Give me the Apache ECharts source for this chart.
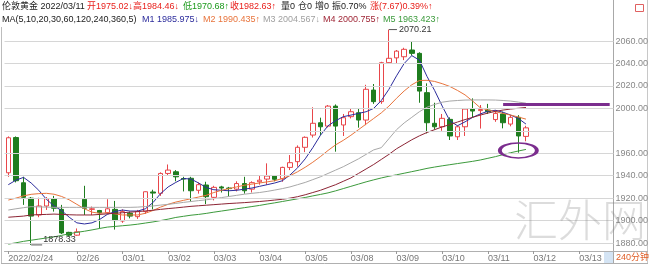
<!DOCTYPE html>
<html><head><meta charset="utf-8">
<script src="https://cdn.jsdelivr.net/npm/echarts@6/dist/echarts.min.js"></script>
<style>html,body{margin:0;padding:0;background:#fff}#c{width:650px;height:267px}</style>
</head><body><div id="c"></div>
<script>
// ---- data (240-minute candles, London gold) ----
const openPrices = [1942.6,1974,1933.7,1920,1905,1913,1919.5,1910,1889.5,1887,
  1919,1910,1909,1907,1910,1899.6,1906.5,1903.5,1908,1925.5,
  1924.3,1942,1943.5,1937.5,1937.7,1927,1931.7,1920.7,1930,1929,
  1928,1933,1928,1934.6,1937,1939.7,1937.3,1947.4,1952.5,1965.3,
  1976.2,1987.2,1984.2,2002,1985.2,1992.6,1996.1,1989.6,2016.3,2006,
  2040.7,2045,2046,2052,2049,2014,1986.7,1983.6,1990.2,1974.7,
  1983.6,1999.4,1998,1998.5,1990,1995,1986,1992,1975.02];
const closePrices = [1973.8,1935.5,1920.7,1904,1913,1919.5,1911,1889,1887,1890,
  1911,1910.5,1907,1910.5,1900,1908,1904,1908,1925.7,1924.5,
  1942,1945,1939,1937,1926.6,1932,1921.3,1929.6,1929,1928.5,
  1933,1926.6,1933.8,1936,1939.7,1936.8,1947.4,1951.6,1965.3,1974.2,
  1986.7,1983.6,2002,1984.2,1991.7,1997,1989.6,2017,2006,2040.7,
  2044.6,2051,2052.6,2049,2015.4,1987.2,1983.6,1991.1,1975.4,1983.6,
  1999.4,1997.6,1999,1997,1995.5,1987.2,1992,1975.4,1982.63];
const lowPrices = [1939,1934,1914,1878.33,1903,1909.5,1908,1888,1886,1886.5,
  1905,1905,1893,1906,1892,1898,1902,1901.5,1906,1910,
  1922,1940,1935,1926,1917,1924,1914.7,1918,1925,1921,
  1926,1924,1925,1932,1932,1935,1934.6,1945,1948,1961,
  1974,1976,1983,1961.4,1975.4,1991,1982.8,1985,2004,2004,
  2040,2040,2043,2047,2005,1977.7,1981,1980,1971.8,1971.8,
  1975.4,1992,1982,1995,1988,1982.2,1984,1960.5,1970.68];
const highPrices = [1975,1975,1939,1921,1920.4,1921,1922,1914,1890,1893,
  1931,1912.5,1909.5,1919,1917.5,1910,1908,1909.5,1926,1927.5,
  1943,1950,1945,1939,1939,1934,1934.6,1931,1931,1930,
  1935,1939,1935,1940.6,1951,1940.5,1948,1958.4,1967,1975,
  2001,1991.7,2003,2003.5,1995,1999.5,2000,2021,2021.7,2041.5,
  2070.21,2052,2054,2059.4,2050,2022.3,2005,1995,1992,1985,
  2000,2008.9,2003,2004,1998.5,1997,1994,1994,1984.46];

const ma5 = [1932,1936,1938.5,1933.5,1927,1919,1913,1909,1903,1898,
  1897,1898,1901,1905.5,1908,1909.4,1908.5,1908.5,1910.5,1916,
  1924,1930,1934,1937.5,1937,1933.5,1929.5,1927.5,1927,1926.6,
  1927,1928,1929,1930.5,1932,1933.5,1935.5,1940.6,1947,1955,
  1965,1976,1984.5,1989,1992.6,1994,1995.5,1997,2000,2007,
  2017,2029,2040,2047,2043,2028.5,2016,2002,1989,1984.5,
  1988,1992,1995,1997.5,1998.3,1996.5,1994,1991,1986];
const ma10 = [1918.3,1920,1922,1923.4,1924,1924.3,1923.5,1921.5,1918.5,1914.5,
  1910.5,1907.5,1906.5,1907,1906,1905,1905,1905,1906.5,1909,
  1912,1914.5,1916.5,1918,1919.5,1921,1922.5,1925,1927,1928.5,
  1930,1931.5,1932.5,1933.5,1934.5,1935.5,1937.5,1940,1943.5,1947.5,
  1952,1957,1962.5,1967.5,1971.5,1976,1981,1986,1991,1996,
  2002,2009,2015.5,2021,2024.8,2025,2024,2022,2019.5,2016,
  2012,2006.5,2000.5,1998.5,1997,1995.5,1994,1992.3,1990.4];
const ma20 = [1909.4,1910.5,1911.5,1912.4,1912.2,1912,1911.8,1911.8,1911.8,1911.8,
  1911.8,1911.8,1911.8,1911.8,1911.8,1911.8,1911.8,1912,1912.5,1913,
  1913.8,1914.5,1915.3,1916.2,1917,1917.8,1918.5,1919.5,1920.5,1921.5,
  1922.5,1923.5,1924.3,1925,1926,1927.2,1928.5,1930,1932,1934,
  1936.5,1939,1942,1945,1948,1951.5,1955,1959,1963,1965,
  1973,1981,1987,1992,1997,2001,2003.5,2005.5,2006.5,2007,
  2007.4,2007.5,2007.5,2007.5,2007.4,2007,2006.5,2005.6,2004.6];
const ma30 = [1903,1903.5,1904,1905,1905.3,1905.5,1905.8,1905.5,1905.2,1905,
  1905,1905,1905.5,1906,1906.5,1907,1907.5,1908,1908.6,1909.2,
  1910,1910.7,1911.3,1912,1912.7,1913.2,1913.7,1914.2,1914.7,1915.2,
  1915.6,1916,1916.5,1917,1917.6,1918.3,1919,1920,1921.3,1923,
  1925,1927,1929.5,1932,1935,1938,1942,1946,1950,1954.5,
  1959,1964,1968,1972,1975.5,1978.5,1981,1983.5,1985.5,1987.8,
  1990,1992,1994,1995.8,1997.3,1998.5,1999.4,2000.1,2000.8];
const ma60 = [1879,1880.2,1881.5,1882.5,1883.5,1884.5,1885.5,1886.8,1888.3,1889.5,
  1890.5,1891.7,1893,1894.2,1894.8,1895.4,1896,1896.8,1897.8,1898.8,
  1900,1901.3,1902.8,1903.8,1904.8,1905.5,1906.4,1907.5,1908.5,1909.5,
  1910.5,1911.5,1912.5,1913.5,1914.7,1915.8,1917,1918.2,1919.4,1920.6,
  1922,1923.3,1924.7,1926.5,1928.5,1930.5,1932.5,1934.5,1936.3,1938,
  1939.5,1940.8,1942.2,1943.6,1945,1946.5,1947.7,1948.8,1949.8,1950.8,
  1951.8,1952.8,1954,1955.5,1957,1958.8,1960.5,1962,1963.4];

const slotCount = 80;                       // candle slots incl. empty future slots
const tickIndex = [0,9,15,21,27,33,39,45,51,57,63,69,75];
const tickText = ['2022/02/24','02/26','03/01','03/02','03/03','03/04','03/05','03/08','03/09','03/10','03/11','03/12','03/13'];
const yTickValues = [1880,1900,1920,1940,1960,1980,2000,2020,2040,2060];
const hiddenYLabel = 1980;
const lastClose = 1982.63;
const resistanceLevel = 2004;
const resistanceFrom = 65, resistanceTo = 79;
const circleAt = [67, 1962.5];
const highMark = [50, 2070.21];
const lowMark = [3, 1878.33];

const header1 = [
  ['伦敦黄金 2022/03/11', 2, '#222'],
  ['开1975.02↓', 87, '#e8201c'],
  ['高1984.46↓', 133, '#e8201c'],
  ['低1970.68↑', 183, '#1c9a1c'],
  ['收1982.63↑', 230, '#e8201c'],
  ['量0', 281, '#222'],
  ['仓0', 298, '#222'],
  ['增0', 315, '#222'],
  ['振0.70%', 332, '#222'],
  ['涨(7.67)0.39%↑', 370, '#e8201c']
];
const header2 = [
  ['MA(5,10,20,30,60,120,240,360,5)', 2, '#222'],
  ['M1 1985.975↓', 142, '#2c2c9c'],
  ['M2 1990.435↑', 203, '#e8743c'],
  ['M3 2004.567↓', 263, '#a0a0a0'],
  ['M4 2000.755↑', 323, '#a02838'],
  ['M5 1963.423↑', 383, '#3c9a3c']
];
const maColors = ['#2c2c9c','#e8743c','#a8a8a8','#8c2434','#3c9a3c'];

// ---- chart ----
const FONT = '"Liberation Sans", "Noto Sans CJK SC", sans-serif';
const cats = Array.from({length: slotCount}, (_, i) => 'k' + i);
const candleData = openPrices.map((o, i) => [o, closePrices[i], lowPrices[i], highPrices[i]]);
const showTick = (idx) => tickIndex.indexOf(idx) >= 0;

const graphics = [];
header1.forEach(([t, x, c]) => graphics.push({type:'text', x: x, y: 7, style:{text:t, fill:c, font:'9px ' + FONT, verticalAlign:'middle'}}));
header2.forEach(([t, x, c]) => graphics.push({type:'text', x: x, y: 20, style:{text:t, fill:c, font:'9px ' + FONT, verticalAlign:'middle'}}));
const ln = (x1,y1,x2,y2,c) => ({type:'line', shape:{x1,y1,x2,y2}, style:{stroke:c, lineWidth:1}, silent:true});
graphics.push(ln(613.5,0,613.5,264,'#a8a8a8'));
graphics.push(ln(647.5,0,647.5,264,'#c8c8c8'));
graphics.push(ln(1.5,27,1.5,264,'#bdbdbd'));
graphics.push(ln(1,263.5,648,263.5,'#b0b0b0'));
graphics.push(ln(613,251.5,648,251.5,'#b0b0b0'));
graphics.push({type:'rect', shape:{x:604,y:252,width:9,height:11}, style:{fill:'#d4e4f4'}, silent:true});
graphics.push({type:'text', x:616, y:257.5, style:{text:'240分钟', fill:'#e0602a', font:'9px ' + FONT, verticalAlign:'middle'}});
graphics.push({type:'rect', shape:{x:635.5,y:4.5,width:8,height:7}, style:{fill:'none', stroke:'#e06060', lineWidth:1}, silent:true});
graphics.push({type:'text', x:514, y:198, z:100, style:{text:'汇外网', fill:'rgba(130,130,130,0.28)', font:'300 44px "Noto Sans CJK SC", sans-serif'}});

const gridLineItems = yTickValues.map(v => ({
  yAxis: v,
  label: {show: v !== hiddenYLabel}
}));
gridLineItems.push({yAxis: lastClose, lineStyle:{opacity:0}, label:{show:true, color:'#e8201c'}});

const option = {
  animation: false,
  backgroundColor: '#ffffff',
  textStyle: {fontFamily: FONT},
  grid: {left: 4.5, right: 36.5, top: 27, bottom: 16, containLabel: false},
  xAxis: {
    type: 'category', data: cats, boundaryGap: true,
    axisLine: {show: true, lineStyle: {color: '#b0b0b0', width: 1}},
    axisTick: {show: true, alignWithLabel: true, interval: (i) => showTick(i), length: 3, lineStyle: {color: '#999'}},
    axisLabel: {show: true, interval: (i) => showTick(i), align: 'left', margin: 3, fontSize: 9, color: '#777',
      formatter: (v, i) => { const k = tickIndex.indexOf(i); return k >= 0 ? tickText[k] : ''; }},
    splitLine: {show: false}
  },
  yAxis: {
    type: 'value', position: 'right', min: 1872.9, max: 2072.5, scale: true,
    axisLine: {show: false}, axisTick: {show: false}, axisLabel: {show: false}, splitLine: {show: false}
  },
  graphic: graphics,
  series: [
    {
      type: 'line', data: [], z: 1, silent: true,
      markLine: {
        silent: true, symbol: ['none','none'], animation: false,
        lineStyle: {color: '#d6d6d6', width: 1, type: 'solid'},
        label: {position: 'end', distance: 2, fontSize: 9, color: '#888', fontFamily: FONT,
          formatter: (p) => Number(p.value).toFixed(2)},
        emphasis: {disabled: true},
        data: gridLineItems
      }
    },
    {
      type: 'candlestick', data: candleData, barWidth: 5, z: 2,
      itemStyle: {color: '#ffffff', color0: '#1f7d1f', borderColor: '#e8464a', borderColor0: '#1f7d1f', borderWidth: 1},
      markLine: {
        silent: true, symbol: ['none','none'], animation: false,
        lineStyle: {color: '#7b2d8e', width: 3, type: 'solid'},
        label: {show: false},
        data: [[{coord: [resistanceFrom, resistanceLevel]}, {coord: [resistanceTo, resistanceLevel]}]]
      },
      markPoint: {
        silent: true, animation: false,
        data: [
          {coord: circleAt, symbol: 'path://M0,50 A50,50 0 1,1 100,50 A50,50 0 1,1 0,50 Z', symbolSize: [37, 15],
            itemStyle: {color: 'rgba(0,0,0,0)', borderColor: '#7b2d8e', borderWidth: 2.5}, label: {show: false}},
          {coord: highMark, symbol: 'rect', symbolSize: [8, 1], symbolOffset: [4, 0], itemStyle: {color: '#555'},
            label: {show: true, position: 'right', distance: 2, fontSize: 9, color: '#333', formatter: String(highMark[1])}},
          {coord: lowMark, symbol: 'rect', symbolSize: [11, 1], symbolOffset: [5.5, 0], itemStyle: {color: '#555'},
            label: {show: true, position: 'right', distance: 1, offset: [0, -5], fontSize: 9, color: '#333', formatter: String(lowMark[1])}}
        ]
      }
    },
    ...[ma5, ma10, ma20, ma30, ma60].map((d, k) => ({
      type: 'line', data: d, z: 3, symbol: 'none', silent: true,
      lineStyle: {color: maColors[k], width: 1}
    }))
  ]
};
const chart = echarts.init(document.getElementById('c'), null, {renderer: 'canvas'});
chart.setOption(option);
</script>
</body></html>
